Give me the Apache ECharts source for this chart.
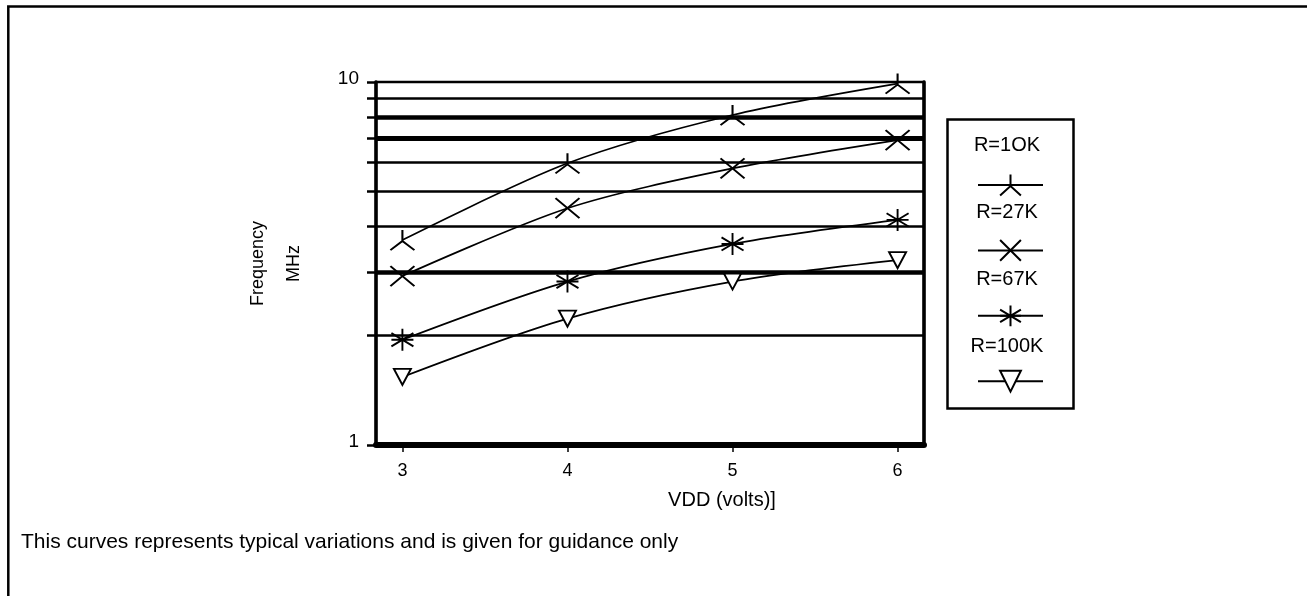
<!DOCTYPE html>
<html>
<head>
<meta charset="utf-8">
<script src="https://cdn.jsdelivr.net/npm/echarts@6/dist/echarts.min.js"></script>
<style>
  html, body { margin: 0; padding: 0; background: #fff; }
  #chart { width: 1307px; height: 596px; }
</style>
</head>
<body>
<div id="chart"></div>
<script>
// ---------------- data ----------------
const xValues = [3, 4, 5, 6];
const seriesNames = ['R=1OK', 'R=27K', 'R=67K', 'R=100K'];
const r10k  = [3.67, 5.97, 8.11, 9.9];
const r27k  = [2.92, 4.49, 5.78, 6.92];
const r67k  = [1.95, 2.82, 3.58, 4.17];
const r100k = [1.54, 2.23, 2.82, 3.23];
const xTicks = [3, 4, 5, 6];
const yTicks = [1, 2, 3, 4, 5, 6, 7, 8, 9, 10];
const yLabels = [1, 10];
const gridValues = [2, 3, 4, 5, 6, 7, 8, 9];
const xAxisName = 'VDD (volts)]';
const yAxisName = 'Frequency\nMHz';
const footnote = 'This curves represents typical variations and is given for guidance only';

// ---------------- styling ----------------
const FONT = 'Liberation Sans, Arial, sans-serif';
const thickGrid = { 3: 4.5, 7: 5, 8: 4.5 };
const symbols = {
  lambda: 'path://M0,0 L0,11 M-12,20 L0,11 L12,20',
  cross: 'path://M-10,-8 L10,8 M-10,8 L10,-8',
  star: 'path://M0,-10 L0,10 M-10,-6 L10,6 M-10,6 L10,-6 M-10,0 L10,0',
  tri: 'path://M-9,-8 L9,-8 L0,9 Z'
};
const symbolDefs = [
  { sym: symbols.lambda, size: [24, 20], fill: 'rgba(0,0,0,0)' },
  { sym: symbols.cross, size: [24, 20], fill: 'rgba(0,0,0,0)' },
  { sym: symbols.star, size: [22, 22], fill: 'rgba(0,0,0,0)' },
  { sym: symbols.tri, size: [17, 16], fill: '#fff' }
];
const seriesData = [r10k, r27k, r67k, r100k];

const series = seriesNames.map((name, i) => ({
  name: name,
  type: 'line',
  smooth: 0.3,
  data: xValues.map((x, j) => [x, seriesData[i][j]]),
  symbol: symbolDefs[i].sym,
  symbolSize: symbolDefs[i].size,
  showAllSymbol: true,
  lineStyle: { color: '#000', width: 1.7 },
  itemStyle: { color: symbolDefs[i].fill, borderColor: '#000', borderWidth: 1.9 },
  emphasis: { disabled: true },
  z: 5,
  markLine: i === 0 ? {
    silent: true,
    symbol: 'none',
    label: { show: false },
    animation: false,
    data: gridValues.map(v => ({
      yAxis: v,
      lineStyle: { color: '#000', type: 'solid', width: thickGrid[v] || 2.5 }
    }))
  } : undefined
}));

const chart = echarts.init(document.getElementById('chart'), null, { renderer: 'canvas' });
chart.setOption({
  animation: false,
  backgroundColor: '#fff',
  textStyle: { fontFamily: FONT, color: '#000' },
  title: {
    text: footnote,
    left: 16,
    top: 527,
    textStyle: { fontFamily: FONT, fontSize: 21, fontWeight: 'normal', color: '#000' }
  },
  grid: {
    left: 376, top: 82, right: 383, bottom: 151,
    show: true, borderColor: '#000', borderWidth: 2.5, backgroundColor: 'transparent'
  },
  legend: [
    {
      data: seriesNames,
      orient: 'vertical',
      left: 972,
      top: 167,
      itemWidth: 65,
      itemHeight: 26,
      itemGap: 41,
      formatter: () => '',
      selectedMode: false,
      textStyle: { fontSize: 1 }
    },
    {
      data: seriesNames,
      orient: 'vertical',
      icon: 'none',
      left: 944,
      top: 135,
      padding: 0,
      itemWidth: 0,
      itemHeight: 20,
      itemGap: 47,
      selectedMode: false,
      formatter: name => '{c|' + name + '}',
      textStyle: {
        fontFamily: FONT, fontSize: 20, color: '#000',
        rich: { c: { width: 116, align: 'center', fontSize: 20, lineHeight: 20, fontFamily: FONT, color: '#000' } }
      }
    }
  ],
  xAxis: {
    type: 'value',
    min: 2.84,
    max: 6.16,
    name: xAxisName,
    nameLocation: 'middle',
    nameGap: 45,
    nameTextStyle: { fontFamily: FONT, fontSize: 20, color: '#000', padding: [0, 0, 0, 144] },
    axisLine: { show: true, onZero: false, lineStyle: { color: '#000', width: 6 } },
    axisTick: { show: true, customValues: xTicks, length: 7, inside: false, lineStyle: { color: '#000', width: 1.5 } },
    axisLabel: { customValues: xTicks, margin: 17, fontSize: 18, fontFamily: FONT, color: '#000' },
    splitLine: { show: false }
  },
  yAxis: [
    {
      type: 'log',
      logBase: 10,
      min: 1,
      max: 10,
      name: yAxisName,
      nameLocation: 'middle',
      nameRotate: 90,
      nameGap: 64,
      nameTextStyle: { fontFamily: FONT, fontSize: 18, color: '#000', lineHeight: 36 },
      axisLine: { show: true, onZero: false, lineStyle: { color: '#000', width: 3.5 } },
      axisTick: { show: true, customValues: yTicks, length: 9, lineStyle: { color: '#000', width: 2.5 } },
      axisLabel: { customValues: yLabels, margin: 17, fontSize: 19, fontFamily: FONT, color: '#000', verticalAlign: 'bottom', padding: [0, 0, -6, 0] },
      splitLine: { show: false }
    },
    {
      type: 'log',
      logBase: 10,
      min: 1,
      max: 10,
      position: 'right',
      axisLine: { show: true, onZero: false, lineStyle: { color: '#000', width: 3.5 } },
      axisTick: { show: false },
      axisLabel: { show: false },
      splitLine: { show: false }
    }
  ],
  graphic: [
    {
      type: 'rect',
      left: 945, top: 117,
      shape: { width: 126, height: 289 },
      style: { fill: 'none', stroke: '#000', lineWidth: 2.5 },
      silent: true
    },
    {
      type: 'polyline',
      shape: { points: [[8.3, 600], [8.3, 6.5], [1310, 6.5]] },
      style: { fill: 'none', stroke: '#000', lineWidth: 2.5 },
      silent: true
    }
  ],
  series: series
});
</script>
</body>
</html>
